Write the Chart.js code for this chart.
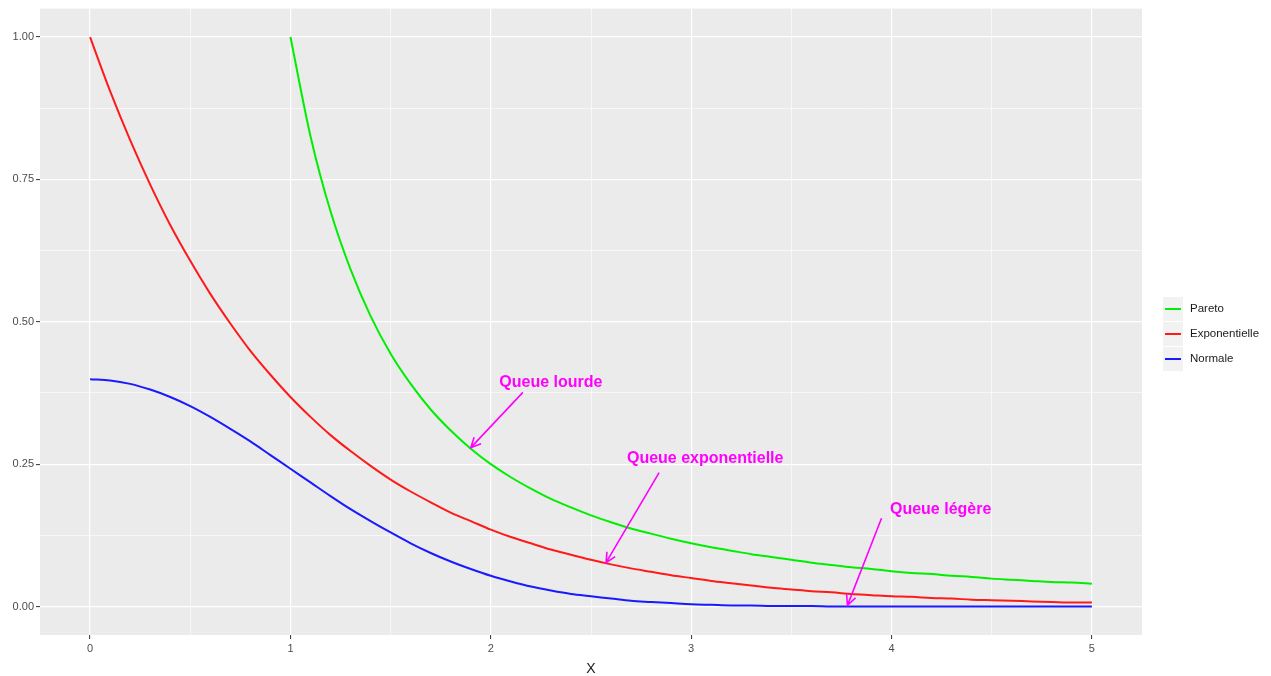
<!DOCTYPE html>
<html>
<head>
<meta charset="utf-8">
<script src="https://cdn.jsdelivr.net/npm/chart.js@4/dist/chart.umd.min.js"></script>
<style>
  html, body { margin: 0; padding: 0; background: #fff; }
  #wrap { width: 1271px; height: 676px; }
</style>
</head>
<body>
<div id="wrap"><canvas id="c"></canvas></div>
<script>
// x grid for the curves, step 0.1
const xFull = [0, 0.1, 0.2, 0.3, 0.4, 0.5, 0.6, 0.7, 0.8, 0.9,
  1, 1.1, 1.2, 1.3, 1.4, 1.5, 1.6, 1.7, 1.8, 1.9,
  2, 2.1, 2.2, 2.3, 2.4, 2.5, 2.6, 2.7, 2.8, 2.9,
  3, 3.1, 3.2, 3.3, 3.4, 3.5, 3.6, 3.7, 3.8, 3.9,
  4, 4.1, 4.2, 4.3, 4.4, 4.5, 4.6, 4.7, 4.8, 4.9, 5];
const xPareto = xFull.slice(10);

const paretoVals = [1.000, 0.826, 0.694, 0.592, 0.510, 0.444, 0.391, 0.346, 0.309, 0.277,
  0.250, 0.227, 0.207, 0.189, 0.174, 0.160, 0.148, 0.137, 0.128, 0.119,
  0.111, 0.104, 0.098, 0.092, 0.087, 0.082, 0.077, 0.073, 0.069, 0.066,
  0.062, 0.059, 0.057, 0.054, 0.052, 0.049, 0.047, 0.045, 0.043, 0.042, 0.040];
const expoVals = [1.000, 0.905, 0.819, 0.741, 0.670, 0.607, 0.549, 0.497, 0.449, 0.407,
  0.368, 0.333, 0.301, 0.273, 0.247, 0.223, 0.202, 0.183, 0.165, 0.150,
  0.135, 0.122, 0.111, 0.100, 0.091, 0.082, 0.074, 0.067, 0.061, 0.055,
  0.050, 0.045, 0.041, 0.037, 0.033, 0.030, 0.027, 0.025, 0.022, 0.020,
  0.018, 0.017, 0.015, 0.014, 0.012, 0.011, 0.010, 0.009, 0.008, 0.007, 0.007];
const normalVals = [0.399, 0.397, 0.391, 0.381, 0.368, 0.352, 0.333, 0.312, 0.290, 0.266,
  0.242, 0.218, 0.194, 0.171, 0.150, 0.130, 0.111, 0.094, 0.079, 0.066,
  0.054, 0.044, 0.035, 0.028, 0.022, 0.018, 0.014, 0.010, 0.008, 0.006,
  0.004, 0.003, 0.002, 0.002, 0.001, 0.001, 0.001, 0, 0, 0,
  0, 0, 0, 0, 0, 0, 0, 0, 0, 0, 0];

const seriesNames = ["Pareto", "Exponentielle", "Normale"];
const seriesColors = ["#00ee00", "#ff1a1a", "#1a1aff"];

const xTicks = [0, 0.5, 1, 1.5, 2, 2.5, 3, 3.5, 4, 4.5, 5];
const yTicks = [0, 0.125, 0.25, 0.375, 0.5, 0.625, 0.75, 0.875, 1];

// annotations: label position, arrow start, arrow end (data units)
const notes = [
  { text: "Queue lourde", at: [2.3, 0.393], from: [2.16, 0.376], to: [1.9, 0.279] },
  { text: "Queue exponentielle", at: [3.07, 0.259], from: [2.84, 0.235], to: [2.575, 0.077] },
  { text: "Queue légère", at: [4.245, 0.171], from: [3.95, 0.155], to: [3.78, 0.002] }
];

const toPts = (xs, ys) => xs.map((x, i) => ({ x: x, y: ys[i] }));

const panelBg = {
  id: "panelBg",
  beforeDraw(chart) {
    const { ctx, chartArea: a } = chart;
    ctx.save();
    ctx.fillStyle = "#ebebeb";
    ctx.fillRect(a.left, a.top, a.right - a.left, a.bottom - a.top);
    ctx.restore();
  }
};

const extras = {
  id: "extras",
  afterDatasetsDraw(chart) {
    const { ctx, scales: { x, y } } = chart;
    ctx.save();
    ctx.strokeStyle = "#ff00ff";
    ctx.fillStyle = "#ff00ff";
    ctx.lineWidth = 1.6;
    ctx.font = "bold 16px 'Liberation Sans', Arial, sans-serif";
    ctx.textAlign = "center";
    ctx.textBaseline = "middle";
    notes.forEach(n => {
      ctx.fillText(n.text, x.getPixelForValue(n.at[0]), y.getPixelForValue(n.at[1]));
      const x1 = x.getPixelForValue(n.from[0]), y1 = y.getPixelForValue(n.from[1]);
      const x2 = x.getPixelForValue(n.to[0]), y2 = y.getPixelForValue(n.to[1]);
      ctx.beginPath();
      ctx.moveTo(x1, y1);
      ctx.lineTo(x2, y2);
      const ang = Math.atan2(y2 - y1, x2 - x1);
      const len = 11, spread = Math.PI / 7;
      ctx.moveTo(x2 - len * Math.cos(ang - spread), y2 - len * Math.sin(ang - spread));
      ctx.lineTo(x2, y2);
      ctx.lineTo(x2 - len * Math.cos(ang + spread), y2 - len * Math.sin(ang + spread));
      ctx.stroke();
    });
    ctx.restore();
  },
  afterDraw(chart) {
    const ctx = chart.ctx;
    ctx.save();
    ctx.font = "11.5px 'Liberation Sans', Arial, sans-serif";
    ctx.textBaseline = "middle";
    ctx.textAlign = "left";
    seriesNames.forEach((name, i) => {
      const top = 297 + i * 25;
      ctx.fillStyle = "#f2f2f2";
      ctx.fillRect(1163, top, 20, 24);
      ctx.strokeStyle = seriesColors[i];
      ctx.lineWidth = 2;
      ctx.beginPath();
      ctx.moveTo(1165, top + 12);
      ctx.lineTo(1181, top + 12);
      ctx.stroke();
      ctx.fillStyle = "#1a1a1a";
      ctx.fillText(name, 1190, top + 12);
    });
    ctx.restore();
  }
};

const lineDs = (label, data, color) => ({
  label, data,
  borderColor: color,
  borderWidth: 2,
  pointRadius: 0,
  fill: false,
  cubicInterpolationMode: "monotone"
});

new Chart(document.getElementById("c"), {
  type: "line",
  data: {
    datasets: [
      lineDs(seriesNames[0], toPts(xPareto, paretoVals), seriesColors[0]),
      lineDs(seriesNames[1], toPts(xFull, expoVals), seriesColors[1]),
      lineDs(seriesNames[2], toPts(xFull, normalVals), seriesColors[2])
    ]
  },
  options: {
    responsive: true,
    maintainAspectRatio: false,
    animation: false,
    layout: { padding: { top: 7, right: 129, left: 0, bottom: 0 } },
    plugins: { legend: { display: false }, tooltip: { enabled: false } },
    scales: {
      x: {
        type: "linear",
        min: -0.25,
        max: 5.25,
        afterBuildTicks: s => { s.ticks = xTicks.map(v => ({ value: v })); },
        afterFit: s => { s.height = 41; },
        border: { display: false },
        grid: {
          color: "#ffffff",
          lineWidth: c => (c.tick && c.tick.value % 1 === 0 ? 1.2 : 0.6),
          tickColor: c => (c.tick && c.tick.value % 1 === 0 ? "#333333" : "rgba(0,0,0,0)"),
          tickLength: 4,
          tickWidth: 1
        },
        ticks: {
          autoSkip: false,
          maxRotation: 0,
          padding: 3,
          color: "#4d4d4d",
          font: { size: 11, family: "'Liberation Sans', Arial, sans-serif" },
          callback: v => (v % 1 === 0 ? String(v) : "")
        },
        title: {
          display: true,
          text: "X",
          color: "#1a1a1a",
          padding: { top: 0, bottom: -2 },
          font: { size: 14, family: "'Liberation Sans', Arial, sans-serif" }
        }
      },
      y: {
        type: "linear",
        min: -0.05,
        max: 1.05,
        afterBuildTicks: s => { s.ticks = yTicks.map(v => ({ value: v })); },
        afterFit: s => { s.width = 40; },
        border: { display: false },
        grid: {
          color: "#ffffff",
          lineWidth: c => (c.tick && Math.round(c.tick.value * 8) % 2 === 0 ? 1.2 : 0.6),
          tickColor: c => (c.tick && Math.round(c.tick.value * 8) % 2 === 0 ? "#333333" : "rgba(0,0,0,0)"),
          tickLength: 4,
          tickWidth: 1
        },
        ticks: {
          autoSkip: false,
          padding: 2,
          color: "#4d4d4d",
          font: { size: 11, family: "'Liberation Sans', Arial, sans-serif" },
          callback: v => (Math.round(v * 8) % 2 === 0 ? v.toFixed(2) : "")
        }
      }
    }
  },
  plugins: [panelBg, extras]
});
</script>
</body>
</html>
